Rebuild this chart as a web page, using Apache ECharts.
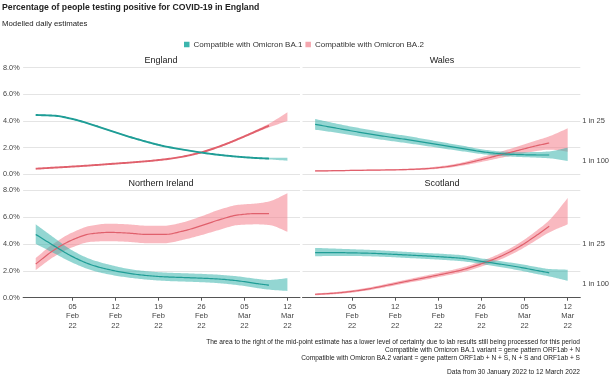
<!DOCTYPE html>
<html><head><meta charset="utf-8">
<script src="https://cdn.jsdelivr.net/npm/echarts@6/dist/echarts.min.js"></script>
<style>html,body{margin:0;padding:0;background:#fff}#c{width:612px;height:379px}</style>
</head><body><div id="c"></div>
<script>
// x = days since 30 January 2022
const days = [0, 3, 6, 9, 12, 15, 18, 21, 24, 27, 30, 33, 36, 38, 41];
const tickDays = [6, 13, 20, 27, 34, 41];
const tickLabels = ['05\nFeb\n22', '12\nFeb\n22', '19\nFeb\n22', '26\nFeb\n22', '05\nMar\n22', '12\nMar\n22'];
const rightTickValues = [1, 4];
const rightTickLabels = ['1 in 100', '1 in 25'];
const regions = ['England', 'Wales', 'Northern Ireland', 'Scotland'];
const variantNames = ['Compatible with Omicron BA.1', 'Compatible with Omicron BA.2'];

// England
const engBA1Mid = [4.45, 4.4, 4.15, 3.75, 3.3, 2.85, 2.45, 2.1, 1.85, 1.63, 1.45, 1.32, 1.22, 1.18];
const engBA1Lo  = [4.4, 4.35, 4.1, 3.7, 3.25, 2.8, 2.4, 2.05, 1.8, 1.59, 1.41, 1.28, 1.17, 1.12, 1.02];
const engBA1Hi  = [4.5, 4.45, 4.2, 3.8, 3.35, 2.9, 2.5, 2.15, 1.9, 1.67, 1.49, 1.36, 1.27, 1.24, 1.24];
const engBA2Mid = [0.42, 0.5, 0.58, 0.67, 0.77, 0.87, 0.98, 1.12, 1.33, 1.65, 2.1, 2.65, 3.25, 3.65];
const engBA2Lo  = [0.39, 0.47, 0.55, 0.64, 0.74, 0.84, 0.95, 1.08, 1.29, 1.6, 2.04, 2.58, 3.16, 3.52, 4.0];
const engBA2Hi  = [0.45, 0.53, 0.61, 0.7, 0.8, 0.9, 1.01, 1.16, 1.37, 1.7, 2.16, 2.72, 3.34, 3.8, 4.65];
// Wales
const walBA1Mid = [3.75, 3.5, 3.25, 3.02, 2.8, 2.6, 2.38, 2.15, 1.93, 1.7, 1.55, 1.48, 1.45, 1.45];
const walBA1Lo  = [3.35, 3.15, 2.93, 2.72, 2.52, 2.33, 2.13, 1.92, 1.72, 1.52, 1.38, 1.3, 1.25, 1.2, 1.0];
const walBA1Hi  = [4.15, 3.85, 3.57, 3.32, 3.08, 2.87, 2.63, 2.38, 2.14, 1.88, 1.72, 1.66, 1.67, 1.72, 2.0];
const walBA2Mid = [0.25, 0.27, 0.29, 0.31, 0.33, 0.36, 0.42, 0.55, 0.78, 1.1, 1.45, 1.8, 2.15, 2.35];
const walBA2Lo  = [0.2, 0.22, 0.24, 0.26, 0.28, 0.3, 0.35, 0.46, 0.66, 0.93, 1.22, 1.5, 1.75, 1.85, 1.7];
const walBA2Hi  = [0.3, 0.32, 0.34, 0.36, 0.38, 0.42, 0.5, 0.65, 0.9, 1.28, 1.68, 2.1, 2.55, 2.85, 3.45];
// Northern Ireland
const niBA1Mid = [4.7, 3.85, 3.05, 2.45, 2.08, 1.82, 1.65, 1.55, 1.5, 1.45, 1.38, 1.25, 1.05, 0.93];
const niBA1Lo  = [4.0, 3.3, 2.6, 2.05, 1.72, 1.5, 1.35, 1.25, 1.2, 1.15, 1.07, 0.93, 0.72, 0.6, 0.5];
const niBA1Hi  = [5.45, 4.45, 3.5, 2.85, 2.45, 2.15, 1.97, 1.87, 1.82, 1.77, 1.7, 1.58, 1.4, 1.32, 1.45];
const niBA2Mid = [2.5, 3.55, 4.3, 4.75, 4.85, 4.8, 4.7, 4.7, 4.95, 5.35, 5.8, 6.15, 6.25, 6.25];
const niBA2Lo  = [2.05, 3.05, 3.75, 4.15, 4.2, 4.15, 4.05, 4.05, 4.3, 4.65, 5.05, 5.4, 5.45, 5.4, 4.9];
const niBA2Hi  = [2.95, 4.05, 4.85, 5.35, 5.5, 5.45, 5.35, 5.35, 5.6, 6.05, 6.55, 6.9, 7.0, 7.15, 7.75];
// Scotland
const scoBA1Mid = [3.35, 3.35, 3.33, 3.3, 3.24, 3.17, 3.1, 3.02, 2.92, 2.7, 2.5, 2.28, 2.02, 1.85];
const scoBA1Lo  = [3.08, 3.1, 3.1, 3.07, 3.02, 2.95, 2.88, 2.8, 2.7, 2.5, 2.28, 2.04, 1.76, 1.58, 1.25];
const scoBA1Hi  = [3.7, 3.65, 3.6, 3.55, 3.48, 3.4, 3.32, 3.25, 3.15, 2.92, 2.72, 2.52, 2.28, 2.13, 2.08];
const scoBA2Mid = [0.25, 0.33, 0.47, 0.68, 0.95, 1.23, 1.5, 1.78, 2.08, 2.52, 3.05, 3.75, 4.65, 5.3];
const scoBA2Lo  = [0.18, 0.25, 0.38, 0.58, 0.83, 1.1, 1.35, 1.62, 1.9, 2.32, 2.82, 3.48, 4.3, 4.85, 5.45];
const scoBA2Hi  = [0.32, 0.41, 0.56, 0.78, 1.07, 1.36, 1.65, 1.94, 2.26, 2.72, 3.28, 4.02, 5.0, 5.75, 7.4];

const FONT = '"Liberation Sans", Arial, sans-serif';
const TEAL_LINE = '#1f9d96', TEAL_BAND = 'rgba(58,181,173,0.55)', TEAL_KEY = '#3bb5ad';
const RED_LINE = '#e0606c', RED_BAND = 'rgba(244,128,140,0.55)', RED_KEY = '#f4a6ae';

const chart = echarts.init(document.getElementById('c'), null, {renderer: 'canvas'});

const grids = [
  {left: 22, top: 67.7, width: 278, height: 106.6},
  {left: 302.5, top: 67.7, width: 279.5, height: 106.6},
  {left: 22, top: 190, width: 278, height: 107.7},
  {left: 302.5, top: 190, width: 279.5, height: 107.7}
];
const XMIN = -2.05, XMAX = 43.05;
const xAxes = grids.map((g, i) => {
  const bottom = i >= 2;
  return {
    type: 'value', gridIndex: i, min: XMIN, max: XMAX,
    splitLine: {show: false},
    axisLine: {show: bottom, onZero: false, lineStyle: {color: '#555', width: 1}},
    axisTick: {show: bottom, customValues: tickDays, length: 3, lineStyle: {color: '#555'}},
    axisLabel: {show: bottom, customValues: tickDays, margin: 4,
      formatter: v => tickLabels[tickDays.indexOf(Math.round(v))] || '',
      fontFamily: FONT, fontSize: 7.5, lineHeight: 9.6, color: '#444'}
  };
});
const splitLine = {show: true, lineStyle: {color: '#e4e4e4', width: 1}};
const yAxes = [];
const yIndexOfGrid = [];
grids.forEach((g, i) => {
  const left = i % 2 === 0;
  yIndexOfGrid.push(yAxes.length);
  yAxes.push({
    type: 'value', gridIndex: i, min: 0, max: 8, interval: 2,
    splitLine, axisLine: {show: false}, axisTick: {show: false},
    axisLabel: {show: left, margin: 3.5, formatter: v => v.toFixed(1) + '%',
      fontFamily: FONT, fontSize: 7.3, color: '#444'}
  });
  if (!left) {
    yAxes.push({
      type: 'value', gridIndex: i, min: 0, max: 8, position: 'right',
      splitLine: {show: false}, axisLine: {show: false}, axisTick: {show: false},
      axisLabel: {show: true, customValues: rightTickValues, margin: 2, align: 'left',
        formatter: v => rightTickLabels[rightTickValues.indexOf(v)] || '',
        fontFamily: FONT, fontSize: 7.5, color: '#444'}
    });
  }
});

// Monotone cubic (Fritsch-Carlson) smoothing of pixel points, for drawing curves
function smoothPixels(pts) {
  const n = pts.length;
  if (n < 3) return pts.slice();
  const h = [], d = [];
  for (let k = 0; k < n - 1; k++) {
    h.push(pts[k + 1][0] - pts[k][0]);
    d.push((pts[k + 1][1] - pts[k][1]) / h[k]);
  }
  const m = new Array(n);
  m[0] = d[0]; m[n - 1] = d[n - 2];
  for (let k = 1; k < n - 1; k++) {
    if (d[k - 1] * d[k] <= 0) m[k] = 0;
    else {
      const w1 = 2 * h[k] + h[k - 1], w2 = h[k] + 2 * h[k - 1];
      m[k] = (w1 + w2) / (w1 / d[k - 1] + w2 / d[k]);
    }
  }
  const out = [];
  for (let k = 0; k < n - 1; k++) {
    const steps = 12;
    for (let s = 0; s < steps; s++) {
      const t = s / steps, t2 = t * t, t3 = t2 * t;
      const h00 = 2 * t3 - 3 * t2 + 1, h10 = t3 - 2 * t2 + t, h01 = -2 * t3 + 3 * t2, h11 = t3 - t2;
      out.push([pts[k][0] + t * h[k],
        h00 * pts[k][1] + h10 * h[k] * m[k] + h01 * pts[k + 1][1] + h11 * h[k] * m[k + 1]]);
    }
  }
  out.push(pts[n - 1].slice());
  return out;
}

const series = [];
function addVariant(gi, vi, mid, lo, hi, lineWidth) {
  const bandColor = vi === 0 ? TEAL_BAND : RED_BAND;
  const lineColor = vi === 0 ? TEAL_LINE : RED_LINE;
  series.push({
    type: 'custom', name: 'band' + gi + '_' + vi, xAxisIndex: gi, yAxisIndex: yIndexOfGrid[gi],
    silent: true, animation: false, z: 1, clip: false,
    data: days.map((d, k) => [d, lo[k], hi[k]]),
    encode: {x: 0, y: [1, 2]},
    renderItem: (params, api) => {
      if (params.dataIndex !== 0) return null;
      const upper = smoothPixels(days.map((d, k) => api.coord([d, hi[k]])));
      const lower = smoothPixels(days.map((d, k) => api.coord([d, lo[k]])));
      const points = upper.concat(lower.reverse());
      return {type: 'polygon', shape: {points}, style: {fill: bandColor, stroke: null}};
    }
  });
  series.push({
    type: 'custom', name: variantNames[vi], xAxisIndex: gi, yAxisIndex: yIndexOfGrid[gi],
    silent: true, animation: false, z: 3, clip: false,
    data: mid.map((v, k) => [days[k], v]),
    encode: {x: 0, y: 1},
    itemStyle: {color: vi === 0 ? TEAL_KEY : RED_KEY},
    renderItem: (params, api) => {
      if (params.dataIndex !== 0) return null;
      const points = smoothPixels(mid.map((v, k) => api.coord([days[k], v])));
      return {type: 'polyline', shape: {points},
        style: {stroke: lineColor, lineWidth, fill: null, lineJoin: 'round', lineCap: 'butt'}};
    }
  });
}
addVariant(0, 1, engBA2Mid, engBA2Lo, engBA2Hi, 1.9);
addVariant(0, 0, engBA1Mid, engBA1Lo, engBA1Hi, 1.9);
addVariant(1, 1, walBA2Mid, walBA2Lo, walBA2Hi, 1.2);
addVariant(1, 0, walBA1Mid, walBA1Lo, walBA1Hi, 1.2);
addVariant(2, 1, niBA2Mid, niBA2Lo, niBA2Hi, 1.2);
addVariant(2, 0, niBA1Mid, niBA1Lo, niBA1Hi, 1.2);
addVariant(3, 1, scoBA2Mid, scoBA2Lo, scoBA2Hi, 1.2);
addVariant(3, 0, scoBA1Mid, scoBA1Lo, scoBA1Hi, 1.2);

const panelTitlePos = [[161, 61], [442, 61], [161, 183.5], [442, 183.5]];
const graphics = [
  {type: 'text', left: 2, top: 3, style: {text: 'Percentage of people testing positive for COVID-19 in England',
    font: 'bold 8.7px ' + FONT, fill: '#222'}},
  {type: 'text', left: 2, top: 19.5, style: {text: 'Modelled daily estimates',
    font: '7.8px ' + FONT, fill: '#222'}},
  {type: 'text', x: 580, y: 342, style: {text: 'The area to the right of the mid-point estimate has a lower level of certainty due to lab results still being processed for this period',
    font: '6.6px ' + FONT, fill: '#222', align: 'right', verticalAlign: 'middle'}},
  {type: 'text', x: 580, y: 350, style: {text: 'Compatible with Omicron BA.1 variant = gene pattern ORF1ab + N',
    font: '6.6px ' + FONT, fill: '#222', align: 'right', verticalAlign: 'middle'}},
  {type: 'text', x: 580, y: 358, style: {text: 'Compatible with Omicron BA.2 variant = gene pattern ORF1ab + N + S, N + S and ORF1ab + S',
    font: '6.6px ' + FONT, fill: '#222', align: 'right', verticalAlign: 'middle'}},
  {type: 'text', x: 580, y: 372.5, style: {text: 'Data from 30 January 2022 to 12 March 2022',
    font: '6.6px ' + FONT, fill: '#222', align: 'right', verticalAlign: 'middle'}}
];
regions.forEach((r, i) => graphics.push({type: 'text', x: panelTitlePos[i][0], y: panelTitlePos[i][1],
  style: {text: r, font: '9px ' + FONT, fill: '#222', align: 'center', verticalAlign: 'middle'}}));

chart.setOption({
  animation: false,
  backgroundColor: '#fff',
  grid: grids,
  xAxis: xAxes,
  yAxis: yAxes,
  legend: {
    data: variantNames.map((n, i) => ({name: n, icon: 'rect', itemStyle: {color: i === 0 ? TEAL_KEY : RED_KEY}})),
    left: 184, top: 40.5, icon: 'rect', itemWidth: 5.5, itemHeight: 5.5, itemGap: 3,
    selectedMode: false, padding: 0,
    textStyle: {fontFamily: FONT, fontSize: 8, color: '#333', padding: [0, 0, 0, -1]}
  },
  graphic: graphics,
  series
});
</script></body></html>
